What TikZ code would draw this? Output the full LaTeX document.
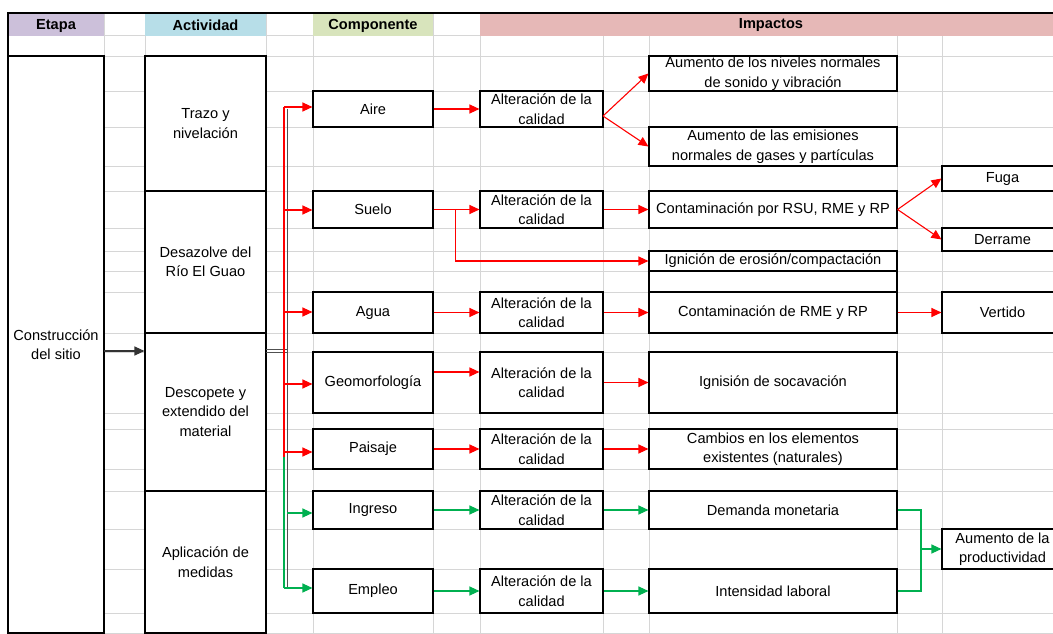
\documentclass[tikz,border=0pt]{standalone}
\usepackage{fontspec}
\setmainfont{Liberation Sans}
\usetikzlibrary{arrows.meta}
\definecolor{gridc}{RGB}{214,214,214}
\definecolor{hpurple}{RGB}{204,192,218}
\definecolor{hblue}{RGB}{183,222,232}
\definecolor{hgreen}{RGB}{216,228,188}
\definecolor{hpink}{RGB}{230,184,183}
\definecolor{rline}{RGB}{255,0,0}
\definecolor{gline}{RGB}{0,176,80}
\definecolor{busgray}{RGB}{80,80,80}
\newcommand{\bx}[6]{\node[cell, minimum width={(#4-#2)*1pt}, minimum height={(#5-#3)*1pt}] (#1) at ({(#2+#4)/2},{(#3+#5)/2}) {#6};}
\newcommand{\hd}[6]{\node[hdr=#6, minimum width={(#4-#2)*1pt}, minimum height={(#5-#3)*1pt}] (#1) at ({(#2+#4)/2},{(#3+#5)/2}) {};}
\tikzset{
  cell/.style={draw=black, line width=1.1pt, fill=white, inner sep=0pt, align=center, font=\fontsize{14.6}{19.5}\selectfont},
  hdr/.style={fill=#1, draw=none, inner sep=0pt},
  htxt/.style={font=\fontsize{14.6}{17}\selectfont\bfseries, inner sep=0pt},
  grid/.style={draw=gridc, line width=0.9pt},
  tip/.style={-{Triangle[length=10pt,width=9pt]}},
  rl/.style={draw=rline, line width=1.1pt},
  gl/.style={draw=gline, line width=1.1pt},
  ra/.style={rl, tip},
  ga/.style={gl, tip},
  ka/.style={draw=black!80, line width=1.1pt, tip},
  bus/.style={draw=busgray, line width=1pt}
}
\begin{document}
\begin{tikzpicture}[x=1pt,y=-1pt]
\useasboundingbox (0,0) rectangle (1053,634);
% grid
\foreach \r in {35,56,91,127,166,191,228,251,271,292,333,352,413,429,469,491,529,569,613,633}
  \draw[grid] (8,\r) -- (1063,\r);
\foreach \c in {104,145,266,313,433,480,603,649,897,942}
  \draw[grid] (\c,13) -- (\c,640);
% headers
\hd{h1}{8}{13}{104}{36}{hpurple}
\hd{h2}{145}{13}{266}{36}{hblue}
\hd{h3}{313}{13}{433}{36}{hgreen}
\hd{h4}{480}{13}{1063}{36}{hpink}
\node[htxt] at ([yshift=-1pt]h1.center) {Etapa};
\node[htxt] at ([yshift=-1pt]h2.center) {Actividad};
\node[htxt] at ([yshift=-1pt]h3.center) {Componente};
\node[htxt] at (771,25) {Impactos};
% etapa
\bx{etapa}{8}{56}{104}{633}{Construcción\\del sitio}
% actividad
\bx{act1}{145}{56}{266}{191}{Trazo y\\nivelación}
\bx{act2}{145}{191}{266}{333}{Desazolve del\\Río El Guao}
\bx{act3}{145}{333}{266}{491}{Descopete y\\extendido del\\material}
\bx{act4}{145}{491}{266}{633}{Aplicación de\\medidas}
% componente
\bx{aire}{313}{91}{433}{127}{Aire}
\bx{suelo}{313}{191}{433}{228}{Suelo}
\bx{agua}{313}{292}{433}{333}{Agua}
\bx{geo}{313}{352}{433}{413}{Geomorfología}
\bx{pai}{313}{429}{433}{469}{Paisaje}
\bx{ing}{313}{491}{433}{529}{Ingreso}
\bx{emp}{313}{569}{433}{613}{Empleo}
% alteracion
\bx{alt1}{480}{91}{603}{127}{Alteración de la\\calidad}
\bx{alt2}{480}{191}{603}{228}{Alteración de la\\calidad}
\bx{alt3}{480}{292}{603}{333}{Alteración de la\\calidad}
\bx{alt4}{480}{352}{603}{413}{Alteración de la\\calidad}
\bx{alt5}{480}{429}{603}{469}{Alteración de la\\calidad}
\bx{alt6}{480}{491}{603}{529}{Alteración de la\\calidad}
\bx{alt7}{480}{569}{603}{613}{Alteración de la\\calidad}
% impactos
\bx{imp1}{649}{56}{897}{91}{Aumento de los niveles normales\\de sonido y vibración}
\bx{imp2}{649}{127}{897}{166}{Aumento de las emisiones\\normales de gases y partículas}
\bx{cont1}{649}{191}{897}{228}{Contaminación por RSU, RME y RP}
\bx{ign}{649}{251}{897}{271}{Ignición de erosión/compactación}
\bx{emptyb}{649}{271}{897}{292}{}
\bx{cont2}{649}{292}{897}{333}{Contaminación de RME y RP}
\bx{ign2}{649}{352}{897}{413}{Ignisión de socavación}
\bx{camb}{649}{429}{897}{469}{Cambios en los elementos\\existentes (naturales)}
\bx{dem}{649}{491}{897}{529}{Demanda monetaria}
\bx{int}{649}{569}{897}{613}{Intensidad laboral}
% far right
\bx{fuga}{942}{166}{1063}{191}{Fuga}
\bx{derr}{942}{228}{1063}{251}{Derrame}
\bx{vert}{942}{292}{1063}{333}{Vertido}
\bx{prod}{942}{529}{1063}{569}{Aumento de la\\productividad}
% frame
\draw[black, line width=1.5pt] (1063,13) -- (8,13) -- (8,633);
% etapa -> actividad
\coordinate (k1) at (104,351);
\draw[ka] (k1) -- (act3.west |- k1);
% bus
\coordinate (s1) at (266,349); \coordinate (s2) at (266,352);
\coordinate (gt) at (287,109); \coordinate (gbt) at (287,589);
\draw[bus] (gt) -- (gbt);
\draw[bus] (s1) -- (gt |- s1);
\draw[bus] (s2) -- (gt |- s2);
\coordinate (rt) at (284,107); \coordinate (rm) at (284,457); \coordinate (gb) at (284,588);
\draw[rl] (rt) -- (rm);
\draw[gl] (rm) -- (gb);
\coordinate (r2) at (284,210);
\coordinate (r3) at (284,312);
\coordinate (r4) at (284,384);
\coordinate (r5) at (284,452);
\coordinate (g1) at (287,513);
\draw[ra] (rt) -- (aire.west |- rt);
\draw[ra] (r2) -- (suelo.west |- r2);
\draw[ra] (r3) -- (agua.west |- r3);
\draw[ra] (r4) -- (geo.west |- r4);
\draw[ra] (r5) -- (pai.west |- r5);
\draw[ga] (g1) -- (ing.west |- g1);
\draw[ga] (gb) -- (emp.west |- gb);
% aire
\draw[ra] (aire.east) -- (alt1.west);
\coordinate (f1) at (603,116);
\draw[ra] (f1) -- (imp1.west);
\draw[ra] (f1) -- (imp2.west);
% suelo
\draw[ra] (suelo.east) -- (alt2.west);
\draw[ra] (suelo.east) -- ++(22,0) |- (ign.west);
\draw[ra] (alt2.east) -- (cont1.west);
\draw[ra] (cont1.east) -- (fuga.west);
\draw[ra] (cont1.east) -- (derr.west);
% agua
\draw[ra] (agua.east) -- (alt3.west);
\draw[ra] (alt3.east) -- (cont2.west);
\draw[ra] (cont2.east) -- (vert.west);
% geomorfologia
\coordinate (gy) at (0,372);
\draw[ra] (geo.east |- gy) -- (alt4.west |- gy);
\draw[ra] (alt4.east) -- (ign2.west);
% paisaje
\draw[ra] (pai.east) -- (alt5.west);
\draw[ra] (alt5.east) -- (camb.west);
% ingreso / empleo
\draw[ga] (ing.east) -- (alt6.west);
\draw[ga] (alt6.east) -- (dem.west);
\draw[ga] (emp.east) -- (alt7.west);
\draw[ga] (alt7.east) -- (int.west);
\coordinate (jn) at (921,549);
\draw[gl] (dem.east) -| (jn);
\draw[gl] (int.east) -| (jn);
\draw[ga] (jn) -- (prod.west);
\end{tikzpicture}
\end{document}
